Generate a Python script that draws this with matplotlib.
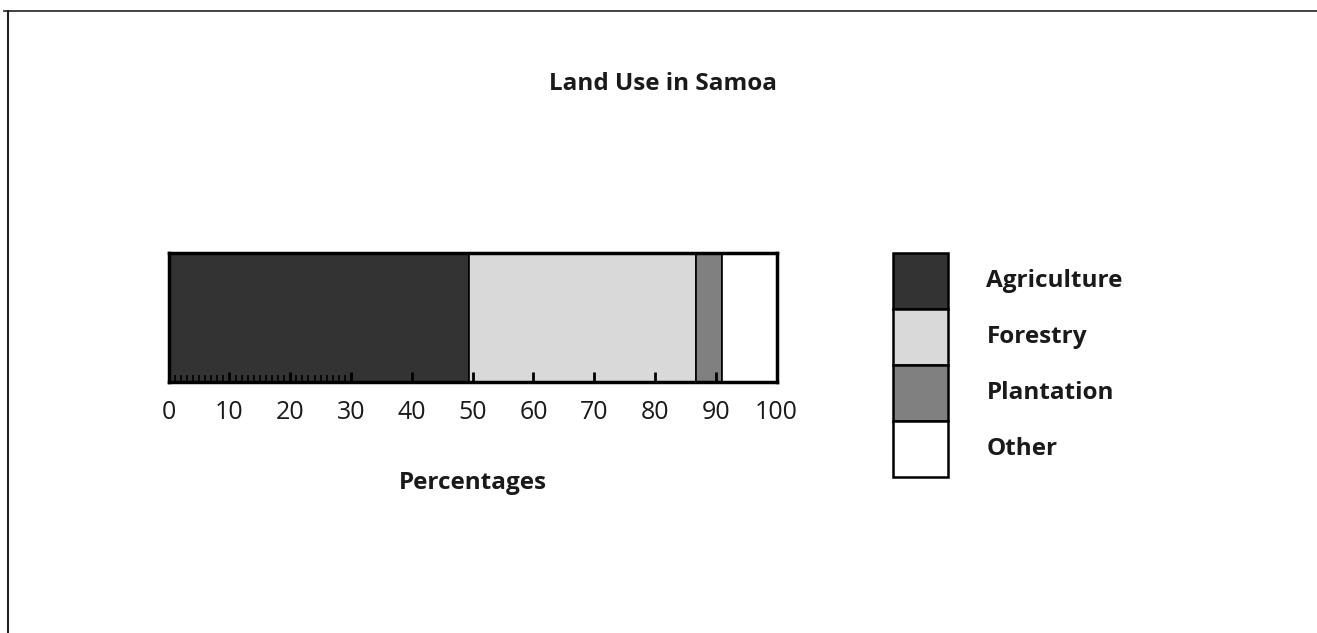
import numpy as np
import matplotlib.pyplot as plt
from matplotlib.lines import Line2D

# land use shares (percent)
categories = ['Agriculture', 'Forestry', 'Plantation', 'Other']
shares = [49.4, 37.3, 4.4, 8.9]
colors = ['#333333', '#d9d9d9', '#808080', '#ffffff']
tick_vals = [0, 10, 20, 30, 40, 50, 60, 70, 80, 90, 100]

plt.rcParams['font.family'] = ['Open Sans', 'DejaVu Sans']

fig = plt.figure(figsize=(13.17, 6.33), dpi=100)

# frame lines round the figure (top and left)
fig.add_artist(Line2D([4/1317, 1], [1 - 11/633, 1 - 11/633], color='#222222', lw=1.2))
fig.add_artist(Line2D([8/1317, 8/1317], [0, 1 - 11/633], color='#222222', lw=1.5))

fig.text(663/1317, 1 - 84/633, 'Land Use in Samoa', ha='center', va='center',
         fontsize=17.5, fontweight='bold', color='#1a1a1a')

# stacked bar
ax = fig.add_axes([168.7/1317, 1 - 382/633, 607.8/1317, 129/633])
left = 0
for name, val, c in zip(categories, shares, colors):
    ax.barh(0, val, left=left, height=1, color=c, edgecolor='black', linewidth=1.2)
    left += val
ax.set_xlim(0, 100)
ax.set_ylim(-0.5, 0.5)
ax.set_yticks([])
for s in ax.spines.values():
    s.set_linewidth(2.5)
ax.set_xticks(tick_vals)
ax.set_xticklabels([str(v) for v in tick_vals], fontsize=18, color='#1a1a1a')
ax.set_xticks(np.arange(1, 30), minor=True)
ax.tick_params(axis='x', which='major', direction='in', length=7, width=2, pad=13)
ax.tick_params(axis='x', which='minor', direction='in', length=5, width=1.2)
ax.set_xlabel('Percentages', fontsize=17.5, fontweight='bold', color='#1a1a1a', labelpad=33)

# legend drawn as stacked boxes
lax = fig.add_axes([893/1317, 1 - 477/633, 55/1317, 224/633])
n = len(categories)
for i, (name, c) in enumerate(zip(categories, colors)):
    y = n - 1 - i
    lax.bar(0, 1, bottom=y, width=1, color=c, edgecolor='black', linewidth=1.8, clip_on=False)
    lax.text(1.2, y + 0.5, name, transform=lax.transData, ha='left', va='center',
             fontsize=17.5, fontweight='bold', color='#1a1a1a', clip_on=False)
lax.set_xlim(-0.5, 0.5)
lax.set_ylim(0, n)
lax.axis('off')

fig.savefig('out.png', dpi=100)
